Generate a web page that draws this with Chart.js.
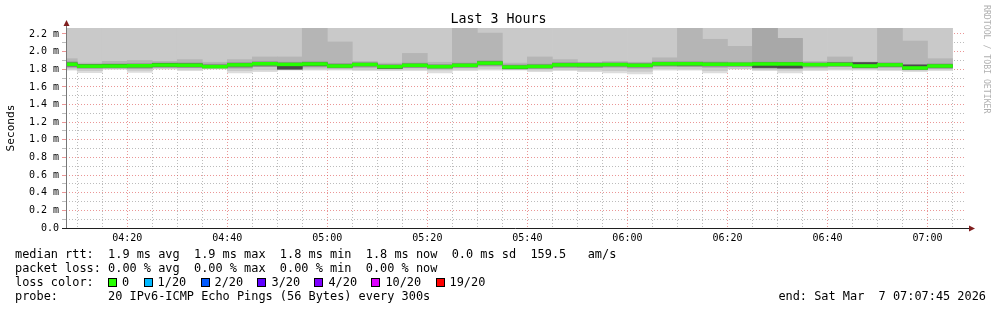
<!DOCTYPE html>
<html lang="en">
<head>
<meta charset="UTF-8">
<title>Last 3 Hours</title>
<script src="https://cdn.jsdelivr.net/npm/chart.js@4.4.1/dist/chart.umd.min.js"></script>
<style>
  body { margin: 0; background: #fff; }
  .graph { position: relative; width: 997px; height: 310px; font-family: "DejaVu Sans Mono", monospace; color: #000; }
  #smokeChart { position: absolute; left: 0; top: 0; }
  .title { position: absolute; left: 0; top: 11px; width: 997px; text-align: center; font-size: 13.3px; line-height: 16px; }
  .watermark { position: absolute; left: 982px; top: 5px; writing-mode: vertical-rl; font-size: 8.2px; line-height: 10px; color: #b0b0b0; }
  .legend { position: absolute; left: 15px; top: 247px; font-size: 11.9px; line-height: 14px; white-space: pre; }
  .end { position: absolute; right: 11px; top: 289px; font-size: 11.9px; line-height: 14px; white-space: pre; }
  .box { display: inline-block; width: 9px; height: 9px; box-sizing: border-box; border: 1px solid #000; margin-right: 5px; vertical-align: -1px; }
</style>
</head>
<body>
<div class="graph">
  <canvas id="smokeChart" width="997" height="310"></canvas>
  <div class="title">Last 3 Hours</div>
  <div class="watermark">RRDTOOL / TOBI OETIKER</div>
  <div class="legend"><div>median rtt:  1.9 ms avg  1.9 ms max  1.8 ms min  1.8 ms now  0.0 ms sd  159.5   am/s</div><div>packet loss: 0.00 % avg  0.00 % max  0.00 % min  0.00 % now</div><div id="lossLine">loss color:  </div><div>probe:       20 IPv6-ICMP Echo Pings (56 Bytes) every 300s</div></div>
  <div class="end">end: Sat Mar  7 07:07:45 2026</div>
</div>
<script>
// 5 minute steps (start of each interval)
const slotStart = ['04:05','04:10','04:15','04:20','04:25','04:30','04:35','04:40','04:45','04:50','04:55','05:00',
  '05:05','05:10','05:15','05:20','05:25','05:30','05:35','05:40','05:45','05:50','05:55','06:00',
  '06:05','06:10','06:15','06:20','06:25','06:30','06:35','06:40','06:45','06:50','06:55','07:00'];

// values in ms
const medianRtt = [1.857,1.835,1.837,1.840,1.848,1.846,1.830,1.850,1.863,1.855,1.860,1.837,
  1.854,1.830,1.845,1.830,1.845,1.870,1.825,1.832,1.850,1.850,1.853,1.845,
  1.862,1.862,1.857,1.857,1.860,1.860,1.853,1.855,1.838,1.850,1.815,1.837];
const pingMin = [1.790,1.761,1.799,1.765,1.800,1.784,1.800,1.760,1.772,1.790,1.790,1.790,
  1.784,1.785,1.784,1.760,1.784,1.790,1.790,1.772,1.784,1.772,1.760,1.746,
  1.790,1.790,1.760,1.800,1.784,1.760,1.784,1.790,1.790,1.784,1.772,1.784];
const pingLow = [1.800,1.785,1.808,1.788,1.810,1.798,1.806,1.785,1.792,1.797,1.800,1.802,
  1.796,1.794,1.798,1.790,1.797,1.803,1.798,1.790,1.796,1.790,1.785,1.775,
  1.803,1.800,1.785,1.808,1.796,1.786,1.797,1.802,1.800,1.796,1.790,1.797];
const pingCoreLo = [1.825,1.812,1.815,1.812,1.822,1.818,1.815,1.815,1.830,1.815,1.828,1.815,
  1.825,1.808,1.818,1.805,1.820,1.838,1.808,1.808,1.822,1.820,1.826,1.815,
  1.835,1.832,1.826,1.830,1.815,1.812,1.825,1.830,1.815,1.825,1.795,1.812];
const pingCoreHi = [1.885,1.855,1.862,1.865,1.872,1.872,1.858,1.876,1.888,1.880,1.885,1.865,
  1.878,1.855,1.870,1.855,1.870,1.895,1.850,1.858,1.876,1.874,1.876,1.870,
  1.886,1.886,1.882,1.880,1.882,1.880,1.876,1.880,1.880,1.874,1.848,1.862];
const pingUpper = [1.92,1.87,1.89,1.90,1.89,1.91,1.88,1.91,1.94,1.94,2.30,2.11,
  1.89,1.87,1.98,1.88,2.30,2.21,1.87,1.94,1.91,1.88,1.89,1.88,
  1.93,2.30,2.14,2.06,2.30,2.15,1.89,1.94,1.88,2.30,2.12,1.92];
const pingUpperDark = [null,null,null,null,null,null,null,null,null,null,null,null,
  null,null,null,null,null,null,null,null,null,null,null,null,
  null,null,null,null,2.30,2.15,null,null,null,null,null,null];
const pingMax = [2.45,2.38,2.41,2.36,2.44,2.40,2.37,2.42,2.47,2.46,2.90,2.60,
  2.39,2.35,2.52,2.37,2.95,2.70,2.36,2.48,2.43,2.38,2.40,2.37,
  2.50,3.10,2.80,2.65,3.40,2.85,2.41,2.49,2.38,3.00,2.75,2.46];
const innerLo = [1.838,1.822,1.826,1.826,1.834,1.832,1.820,1.836,1.848,1.800,1.842,1.825,
  1.840,1.810,1.832,1.818,1.832,1.856,1.805,1.818,1.838,1.838,1.840,1.832,
  1.848,1.846,1.842,1.842,1.820,1.815,1.840,1.842,1.822,1.836,1.802,1.824];
const innerHi = [1.872,1.852,1.855,1.856,1.866,1.862,1.846,1.864,1.876,1.868,1.874,1.850,
  1.866,1.844,1.858,1.844,1.858,1.884,1.838,1.846,1.862,1.862,1.864,1.858,
  1.874,1.876,1.870,1.868,1.874,1.874,1.866,1.872,1.876,1.862,1.850,1.850];

const lossLabels = ['0', '1/20', '2/20', '3/20', '4/20', '10/20', '19/20'];
const lossColors = ['#26ff00', '#00b8ff', '#0059ff', '#5e00ff', '#7e00ff', '#dd00ff', '#ff0000'];

const yTicksMajor = [0, 0.2, 0.4, 0.6, 0.8, 1.0, 1.2, 1.4, 1.6, 1.8, 2.0, 2.2];

// loss colour legend
const lossLine = document.getElementById('lossLine');
lossLabels.forEach((lbl, i) => {
  const b = document.createElement('span');
  b.className = 'box';
  b.style.background = lossColors[i];
  lossLine.appendChild(b);
  lossLine.appendChild(document.createTextNode(lbl + '  '));
});

function toMin(t) {
  const p = t.split(':');
  return +p[0] * 60 + +p[1];
}
const STEP = 5;
const xs = slotStart.map(t => toMin(t) + STEP / 2);
const range = (lo, hi) => xs.map((x, i) => ({ x: x, y: [lo[i], hi[i]] }))
  .filter(d => d.y[0] != null && d.y[1] != null);

const MED_HALF = 0.016;
const medBand = medianRtt.map(m => m - MED_HALF);
const medTop = medianRtt.map(m => m + MED_HALF);

const xMin = toMin('04:07') + 0.75;   // 04:07:45
const xMax = toMin('07:07') + 0.7;

function hhmm(v) {
  const h = Math.floor(v / 60), m = Math.round(v % 60);
  return String(h).padStart(2, '0') + ':' + String(m).padStart(2, '0');
}
const isMajorY = v => yTicksMajor.some(t => Math.abs(t - v) < 1e-6);

const axisArrows = {
  id: 'axisArrows',
  afterDraw(chart) {
    const { ctx, chartArea: a, scales: { y } } = chart;
    const y0 = Math.round(y.getPixelForValue(0));
    const x0 = Math.round(a.left);
    ctx.save();
    ctx.lineWidth = 1;
    ctx.strokeStyle = '#777';
    ctx.beginPath();
    ctx.moveTo(x0 + 0.5, y0);
    ctx.lineTo(x0 + 0.5, a.top - 3);
    ctx.stroke();
    ctx.strokeStyle = '#1f1f1f';
    ctx.beginPath();
    ctx.moveTo(x0 - 4, y0 + 0.5);
    ctx.lineTo(a.right + 3, y0 + 0.5);
    ctx.stroke();
    ctx.fillStyle = '#801f1f';
    ctx.beginPath();
    ctx.moveTo(x0 + 0.5, a.top - 8);
    ctx.lineTo(x0 - 2.5, a.top - 2);
    ctx.lineTo(x0 + 3.5, a.top - 2);
    ctx.fill();
    ctx.beginPath();
    ctx.moveTo(a.right + 9, y0 + 0.5);
    ctx.lineTo(a.right + 3, y0 - 2.5);
    ctx.lineTo(a.right + 3, y0 + 3.5);
    ctx.fill();
    ctx.restore();
  }
};

Chart.defaults.font.family = "'DejaVu Sans Mono', monospace";
Chart.defaults.color = '#000';

const majorGrid = 'rgba(222,80,80,0.6)';
const minorGrid = 'rgba(143,143,143,0.6)';

new Chart(document.getElementById('smokeChart'), {
  type: 'bar',
  data: {
    datasets: [
      { label: 'median', data: range(medBand, medTop), backgroundColor: lossColors[0], order: 0 },
      { label: 'inner', data: range(innerLo, innerHi), backgroundColor: '#4a4a4a', order: 1 },
      { label: 'core', data: range(pingCoreLo, pingCoreHi), backgroundColor: '#969696', order: 2 },
      { label: 'upper dark', data: range(pingCoreLo, pingUpperDark), backgroundColor: '#a8a8a8', order: 3 },
      { label: 'upper', data: range(pingCoreLo, pingUpper), backgroundColor: '#b5b5b5', order: 4 },
      { label: 'smoke', data: range(pingLow, pingMax), backgroundColor: '#c9c9c9', order: 5 },
      { label: 'outer', data: range(pingMin, pingMax), backgroundColor: '#dddddd', order: 6 }
    ]
  },
  options: {
    responsive: false,
    animation: false,
    layout: { padding: { top: 28, right: 31, bottom: 62, left: 0 } },
    datasets: { bar: { grouped: false, barPercentage: 1, categoryPercentage: 1 } },
    plugins: { legend: { display: false }, tooltip: { enabled: false }, title: { display: false } },
    scales: {
      x: {
        type: 'linear',
        offset: false,
        min: xMin,
        max: xMax,
        z: 1,
        afterFit: s => { s.height = 20; },
        border: { display: false, dash: [1, 2] },
        grid: {
          offset: false,
          drawTicks: false,
          color: c => (c.tick && c.tick.value % 20 === 0 ? majorGrid : minorGrid)
        },
        ticks: {
          stepSize: STEP,
          includeBounds: false,
          autoSkip: false,
          maxRotation: 0,
          padding: 4,
          font: { size: 10 },
          callback: v => (v % 20 === 0 ? hhmm(v) : '')
        }
      },
      y: {
        min: 0,
        max: 2.268,
        z: 1,
        afterFit: s => { s.width = 66; },
        border: { display: false, dash: [1, 2] },
        title: { display: true, text: 'Seconds', font: { size: 11.1 }, padding: { top: 4, bottom: 0 } },
        grid: {
          tickLength: 4,
          color: c => (c.tick && isMajorY(c.tick.value) ? majorGrid : minorGrid)
        },
        ticks: {
          stepSize: 0.1,
          includeBounds: false,
          autoSkip: false,
          padding: 3,
          font: { size: 10 },
          callback: v => {
            if (!isMajorY(v)) return '';
            return v === 0 ? '0.0' : v.toFixed(1) + ' m';
          }
        }
      }
    }
  },
  plugins: [axisArrows]
});
</script>
</body>
</html>
